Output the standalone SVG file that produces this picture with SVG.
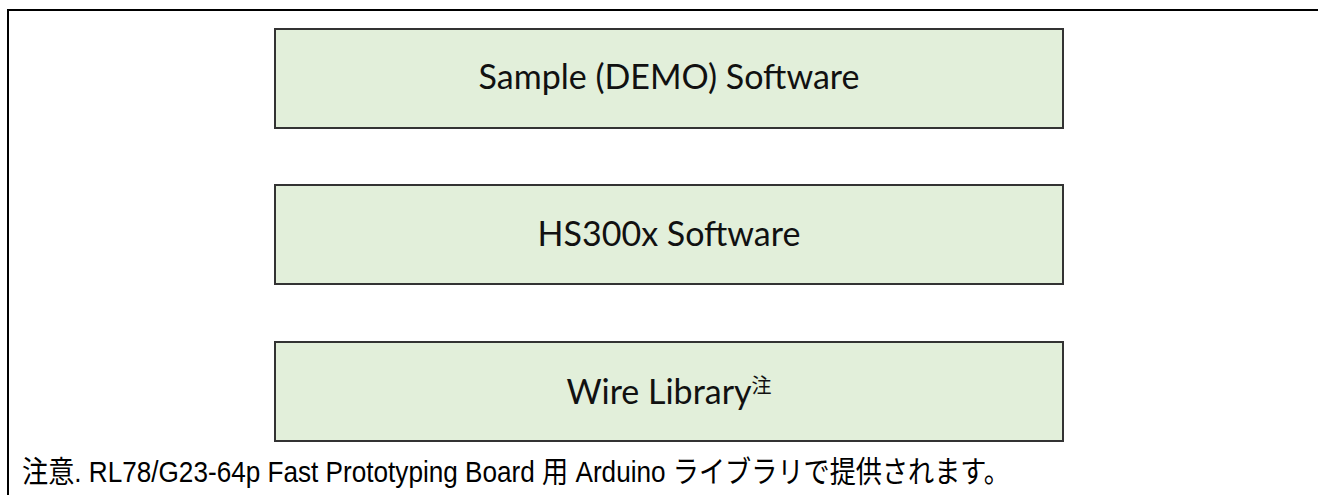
<svg xmlns="http://www.w3.org/2000/svg" width="1318" height="495" viewBox="0 0 1318 495">
<style>
.box{fill:#e2efda;stroke:#333;stroke-width:2}
.lbl{font-family:Lato,"Open Sans",sans-serif;font-size:34px;fill:#111;text-anchor:middle}
.note{font-family:"Liberation Sans","Noto Sans CJK JP",sans-serif;font-size:30px;fill:#000}
</style>
<rect width="1318" height="495" fill="#fff"/>
<g id="frame"><path d="M8,495 V10 H1318" fill="none" stroke="#000" stroke-width="2"/></g>
<g id="connectors"></g>
<g id="node-demo"><rect class="box" x="275" y="29" width="788" height="99"/><text class="lbl" x="669" y="89">Sample (DEMO) Software</text></g>
<g id="node-hs300x"><rect class="box" x="275" y="185" width="788" height="99"/><text class="lbl" x="669" y="246">HS300x Software</text></g>
<g id="node-wire"><rect class="box" x="275" y="342" width="788" height="99"/><text class="lbl" x="669" y="404">Wire Library<tspan font-family="Noto Sans CJK JP" font-size="20" dy="-11">注</tspan></text></g>
<g id="footnote"><text class="note" x="22" y="482" textLength="988" lengthAdjust="spacingAndGlyphs">注意. RL78/G23-64p Fast Prototyping Board 用 Arduino ライブラリで提供されます。</text></g>
</svg>
